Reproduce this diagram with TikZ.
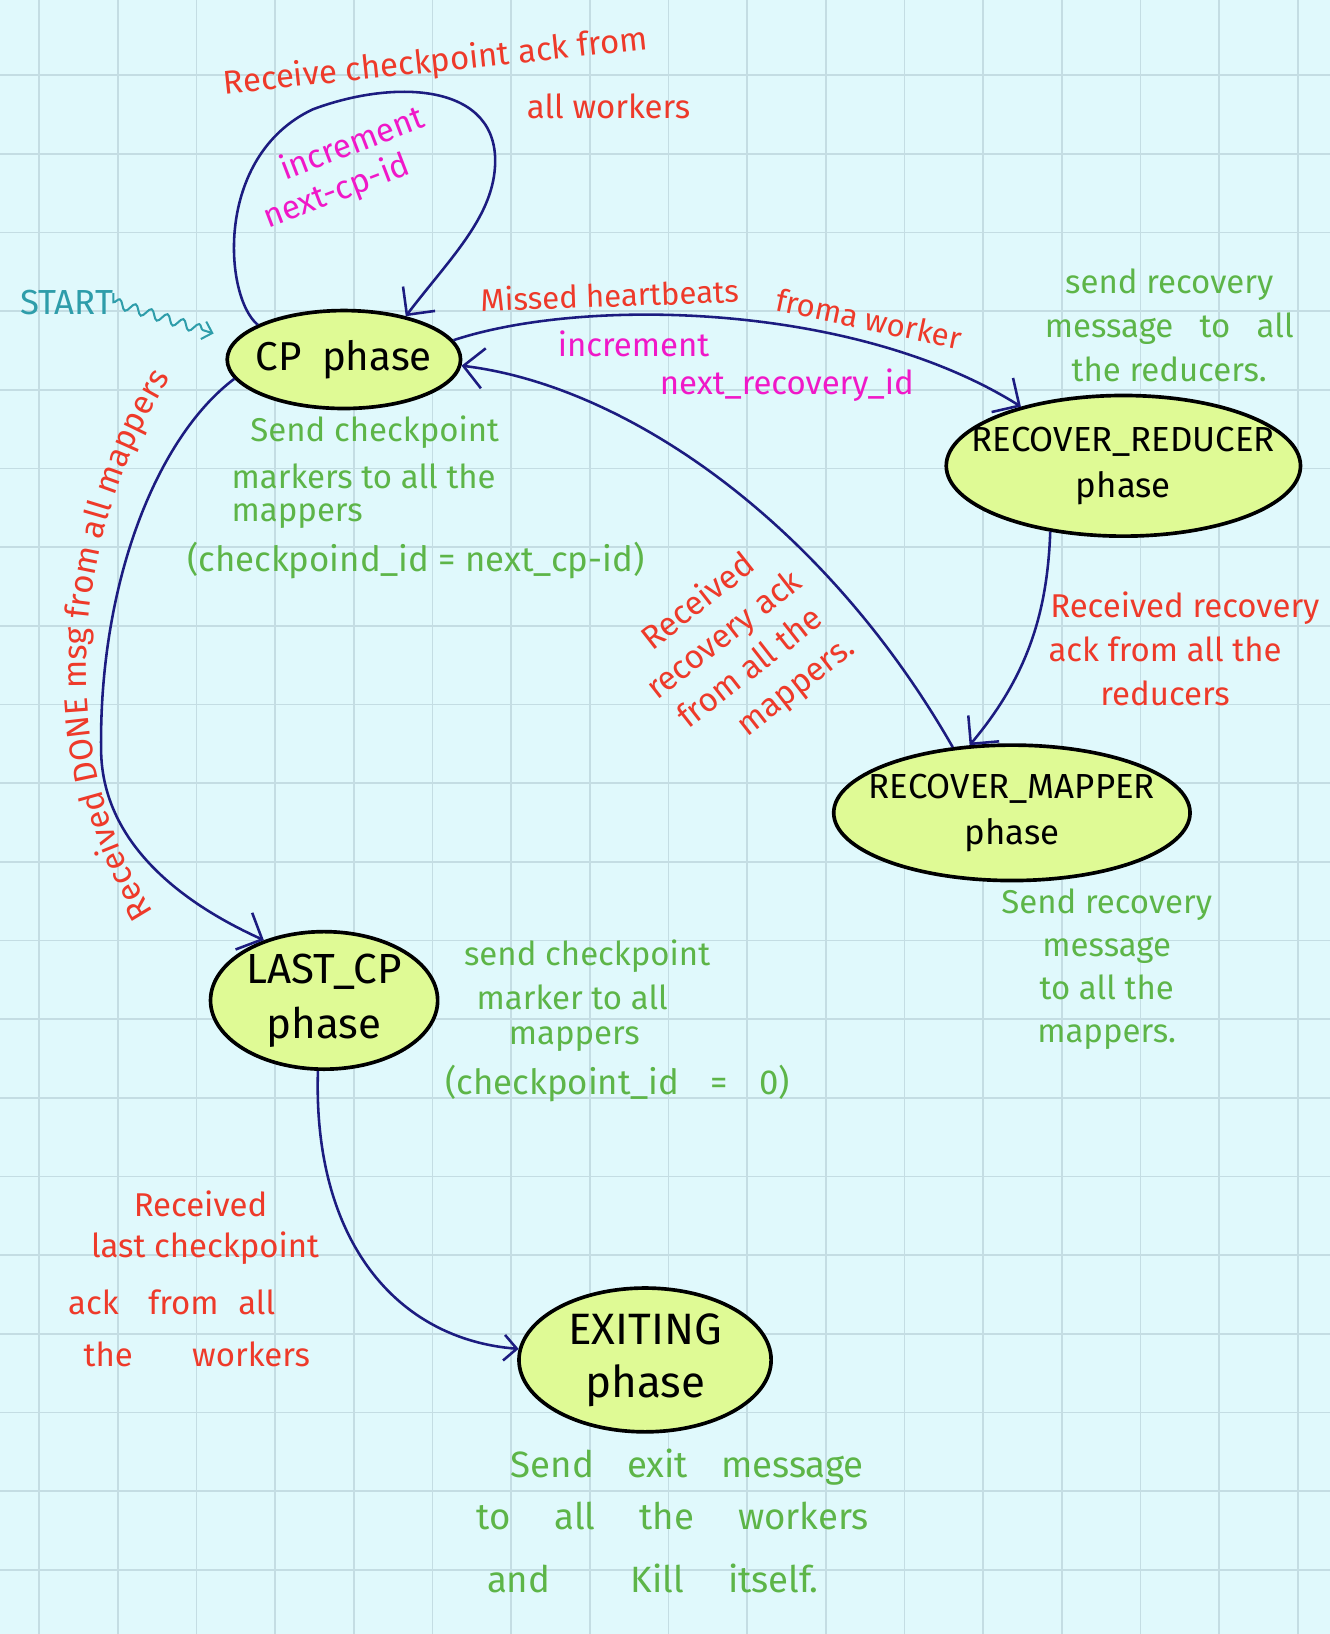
\documentclass[tikz,border=0pt]{standalone}
\usepackage{fontspec}
\setmainfont{Fira Sans}
\usetikzlibrary{shapes.geometric,arrows.meta,decorations.text,decorations.pathmorphing}
\definecolor{bgc}{HTML}{E0F9FC}
\definecolor{gridc}{HTML}{C4DDE3}
\definecolor{fillc}{HTML}{DFFA95}
\definecolor{navy}{HTML}{1C1C80}
\definecolor{labred}{HTML}{EE3A2A}
\definecolor{labgreen}{HTML}{5DB548}
\definecolor{labpink}{HTML}{F018C8}
\definecolor{labteal}{HTML}{2E9DAA}
\newcommand{\zw}[1]{\makebox[0pt][c]{#1}}
\begin{document}
\begin{tikzpicture}[x=0.02cm,y=-0.02cm,
  state/.style={ellipse, draw=black, line width=2pt, fill=fillc, inner sep=0pt, align=center, font=\fontsize{19}{25}\selectfont},
  edge/.style={draw=navy, line width=1.4pt, -{Straight Barb[length=11pt,width=22pt]}},
  smalltip/.style={-{Straight Barb[length=7pt,width=14pt]}},
  lab/.style={inner sep=0pt, font=\fontsize{18}{24}\selectfont},
  redlab/.style={lab, text=labred},
  greenlab/.style={lab, text=labgreen},
  pinklab/.style={lab, text=labpink},
  gridline/.style={draw=gridc, line width=0.9pt}]
% background and grid
\fill[bgc] (0,0) rectangle (1276,1568);
\useasboundingbox (0,0) rectangle (1276,1568);
\foreach \i in {0,...,16} \draw[gridline] ({37.5+75.5*\i},0) -- ({37.5+75.5*\i},1568);
\foreach \j in {0,...,19} \draw[gridline] (0,{72+75.5*\j}) -- (1276,{72+75.5*\j});

% states
\node[state, minimum width=4.48cm, minimum height=1.88cm, font=\fontsize{22}{26}\selectfont] (cp) at (330,345) {\zw{CP\enspace phase}};
\node[state, minimum width=6.8cm, minimum height=2.7cm] (rr) at (1078,447) {\zw{RECOVER\_REDUCER}\\\zw{phase}};
\node[state, minimum width=6.84cm, minimum height=2.6cm] (rm) at (971,780) {\zw{RECOVER\_MAPPER}\\\zw{phase}};
\node[state, minimum width=4.36cm, minimum height=2.64cm, font=\fontsize{23}{30}\selectfont] (last) at (311,960) {\zw{LAST\_CP}\\\zw{phase}};
\node[state, minimum width=4.84cm, minimum height=2.76cm, font=\fontsize{24}{29}\selectfont] (exit) at (619,1305) {\zw{EXITING}\\\zw{phase}};

% start marker
\node[lab, text=labteal, font=\fontsize{19}{24}\selectfont] (start) at (64,290) {START};
\coordinate (startend) at (205,320);
\draw[labteal, line width=1.1pt, shorten <=5pt, decorate,
  decoration={snake, amplitude=0.9mm, segment length=3.2mm, post length=2mm},
  -{Straight Barb[length=5pt,width=10pt]}] (start.east) -- (startend);

% connectors
\draw[edge] (cp.158) .. controls (215,285) and (205,150) .. (300,105)
  .. controls (380,75) and (480,80) .. (475,160)
  .. controls (472,210) and (430,250) .. (cp.35);
\draw[edge] (cp.10) .. controls (560,285) and (820,290) .. (rr.150);
\draw[edge] (rm.132) .. controls (790,500) and (600,370) .. (cp.-3);
\draw[edge] (rr.222) .. controls (1005,590) and (985,650) .. (rm.122);
\draw[edge] (cp.190) .. controls (150,420) and (95,560) .. (97,720)
  .. controls (98,800) and (160,860) .. (last.135);
\draw[edge, smalltip] (last.265) .. controls (300,1190) and (380,1285) .. (exit.175);

% curved label along the left connector
\path[decorate, decoration={text along path,
  text={|\fontsize{18}{24}\selectfont|Received DONE msg from all mappers},
  text color=labred, text align=center}]
  (174,912) .. controls (50,762) and (50,515) .. (188,325);

% red labels
\node[redlab, rotate=6] (r1) at (418,60) {Receive checkpoint ack from};
\node[redlab] (r2) at (584,102) {all workers};
\node[redlab, font=\fontsize{17}{22}\selectfont, rotate=2] (r3) at (585,283) {Missed heartbeats};
\node[redlab, font=\fontsize{17}{22}\selectfont, rotate=-12] (r4) at (834,306) {froma worker};
\node[redlab, align=center] (r5) at (1118,623) {\hspace*{1.2em}Received recovery\\ack from all the\\reducers};
\node[redlab, align=center, rotate=38, font=\fontsize{18}{23}\selectfont] (r8) at (708,626) {Received\\recovery ack\\from all the\\\hspace*{1.5em}mappers.};
\node[redlab, anchor=west] (r12) at (128,1155) {Received};
\node[redlab, anchor=west] (r13) at (87,1198) {last checkpoint};
\node[redlab, anchor=west] (r14) at (65,1250) {ack\hspace{0.9em}from\hspace{0.6em}all};
\node[redlab, anchor=west] (r15) at (80,1300) {the\hspace{1.8em}workers};

% pink labels
\node[pinklab, align=left, rotate=21, font=\fontsize{18}{21}\selectfont] (p1) at (330,162) {\hspace*{1em}increment\\next-cp-id};
\node[pinklab] (p3) at (608,330) {increment};
\node[pinklab] (p4) at (755,370) {next\_recovery\_id};

% green labels
\node[greenlab, anchor=west] (g1) at (240,415) {Send checkpoint};
\node[greenlab, anchor=west] (g2) at (222,457) {markers to all the};
\node[greenlab, anchor=west] (g3) at (222,495) {mappers};
\node[greenlab, font=\fontsize{19}{24}\selectfont] (g4) at (399,538) {(checkpoind\_id = next\_cp-id)};
\node[greenlab, align=center] (g5) at (1122,312) {send recovery\\message\hspace{0.8em}to\hspace{0.8em}all\\the reducers.};
\node[greenlab, anchor=west] (g8) at (445,918) {send checkpoint};
\node[greenlab, anchor=west] (g9) at (457,957) {marker to all};
\node[greenlab, anchor=west] (g10) at (488,997) {mappers};
\node[greenlab, anchor=west, font=\fontsize{19}{24}\selectfont] (g11) at (427,1040) {(checkpoint\_id\hspace{0.9em}=\hspace{0.9em}0)};
\node[greenlab, align=center, font=\fontsize{18}{23.5}\selectfont] (g12) at (1062,930) {Send recovery\\message\\to all the\\mappers.};
\node[greenlab, anchor=west, font=\fontsize{20}{24}\selectfont] (g16) at (490,1408) {Send\hspace{0.9em}exit\hspace{0.9em}message};
\node[greenlab, anchor=west, font=\fontsize{20}{24}\selectfont] (g17) at (457,1455) {to\hspace{1.2em}all\hspace{1.2em}the\hspace{1.2em}workers};
\node[greenlab, anchor=west, font=\fontsize{20}{24}\selectfont] (g18) at (467,1515) {and\hspace{2.2em}Kill\hspace{1.2em}itself.};
\end{tikzpicture}
\end{document}
